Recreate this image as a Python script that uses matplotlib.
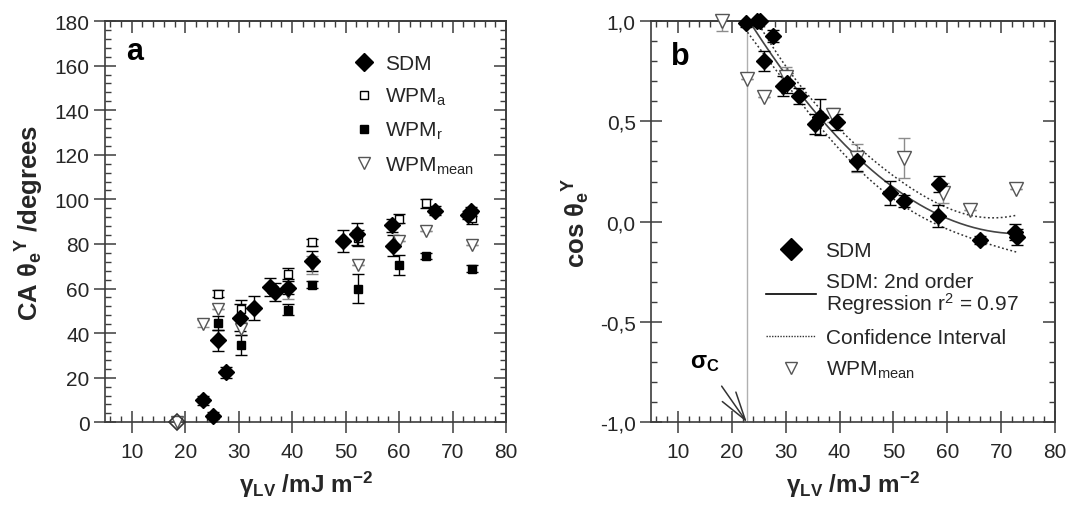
import numpy as np
import matplotlib
matplotlib.use("Agg")
import matplotlib.pyplot as plt
from matplotlib.ticker import MultipleLocator, FixedLocator, FixedFormatter
from matplotlib.lines import Line2D

plt.rcParams['font.family'] = ['Liberation Sans', 'DejaVu Sans']
plt.rcParams['mathtext.fontset'] = 'custom'
plt.rcParams['mathtext.rm'] = 'Liberation Sans'
plt.rcParams['mathtext.it'] = 'Liberation Sans:italic'
plt.rcParams['mathtext.bf'] = 'Liberation Sans:bold'

# ---------------- Panel a data ----------------
sdm_a_x = [23.3, 25.2, 26.2, 27.7, 30.2, 32.8, 35.9, 36.8, 39.3, 43.8, 49.6, 52.2, 58.6, 58.9, 66.7, 72.8, 73.4]
sdm_a_y = [9.8, 3.0, 36.7, 22.5, 47.0, 51.2, 60.8, 58.6, 60.4, 72.4, 81.4, 84.4, 88.4, 79.3, 95.0, 93.0, 94.7]
sdm_a_e = [2.0, 1.5, 4.5, 2.5, 6.0, 5.5, 4.0, 4.0, 3.0, 4.5, 5.0, 5.0, 3.0, 4.5, 2.0, 2.0, 2.0]
sdm_open_x = [18.5]
sdm_open_y = [0.0]

wpm_x = [26.2, 30.4, 39.3, 43.8, 52.4, 60.0, 65.0, 73.6]
wpma_y = [57.7, 51.0, 66.7, 80.8, 82.6, 91.3, 98.3, 91.6]
wpma_e = [1.5, 4.0, 2.5, 1.5, 3.5, 2.0, 2.0, 2.5]
wpmr_y = [44.6, 34.6, 50.5, 61.7, 60.0, 70.7, 74.6, 68.9]
wpmr_e = [3.0, 4.5, 2.5, 1.5, 6.5, 4.5, 1.5, 1.5]

wpmm_a_x = [18.5, 23.3, 26.2, 30.4, 39.3, 43.8, 52.4, 60.0, 65.0, 73.6]
wpmm_a_y = [0.0, 44.3, 50.7, 42.0, 58.5, 70.7, 70.7, 81.1, 85.7, 79.6]
wpmm_a_e = [0.0, 1.5, 0.0, 3.0, 3.0, 4.0, 0.0, 0.0, 0.0, 0.0]

# ---------------- Panel b data ----------------
sdm_b_x = [22.7, 24.6, 25.3, 27.6, 26.0, 29.5, 30.3, 32.5, 35.5, 36.4, 39.5, 43.2, 49.3, 52.0, 58.3, 58.5, 66.0, 72.6, 72.9]
sdm_b_y = [0.99, 1.0, 1.0, 0.924, 0.80, 0.675, 0.69, 0.625, 0.487, 0.52, 0.495, 0.304, 0.143, 0.105, 0.027, 0.188, -0.09, -0.053, -0.078]
sdm_b_e = [0.02, 0.01, 0.01, 0.03, 0.05, 0.05, 0.05, 0.04, 0.05, 0.09, 0.04, 0.05, 0.06, 0.03, 0.055, 0.04, 0.02, 0.04, 0.04]

wpmm_b_x = [18.1, 22.9, 26.0, 30.0, 38.7, 43.2, 52.0, 59.2, 64.3, 72.8]
wpmm_b_y = [1.0, 0.71, 0.62, 0.72, 0.53, 0.315, 0.316, 0.143, 0.06, 0.163]
wpmm_b_e = [0.05, 0.0, 0.0, 0.05, 0.035, 0.07, 0.1, 0.05, 0.0, 0.0]

sigma_c = 22.8

a_yticks = [0, 20, 40, 60, 80, 100, 120, 140, 160, 180]
xticks = [10, 20, 30, 40, 50, 60, 70, 80]
b_yticks = [-1.0, -0.5, 0.0, 0.5, 1.0]
b_yticklabels = ['-1,0', '-0,5', '0,0', '0,5', '1,0']

# ---------------- Figure ----------------
W, H = 1067, 506
fig = plt.figure(figsize=(W / 100, H / 100), dpi=100)
axa = fig.add_axes([105 / W, (H - 423.3) / H, 401 / W, 401.3 / H])
axb = fig.add_axes([651 / W, (H - 423.3) / H, 404 / W, 401.3 / H])

SP = '#3c3c3c'
TX = '#262626'
GR = '#8c8c8c'


def style(ax, xminor, yminor):
    for s in ax.spines.values():
        s.set_color(SP)
        s.set_linewidth(1.2)
    ax.xaxis.set_minor_locator(MultipleLocator(xminor))
    ax.yaxis.set_minor_locator(MultipleLocator(yminor))
    ax.tick_params(which='major', direction='inout', length=16, width=1.1, color=SP,
                   labelsize=15, labelcolor=TX, top=False, right=False)
    ax.tick_params(axis='x', which='major', pad=6)
    ax.tick_params(axis='y', which='major', pad=3)
    ax.tick_params(which='minor', direction='in', length=4, width=1.0, color=SP,
                   top=False, right=False)
    sx = ax.secondary_xaxis('top')
    sx.xaxis.set_major_locator(FixedLocator(ax.get_xticks()))
    sx.xaxis.set_minor_locator(MultipleLocator(xminor))
    sx.tick_params(which='major', direction='in', length=8.5, width=1.1, color=SP, labeltop=False)
    sx.tick_params(which='minor', direction='in', length=4, width=1.0, color=SP)
    sx.spines['top'].set_color(SP)
    sx.spines['top'].set_linewidth(1.2)
    sy = ax.secondary_yaxis('right')
    sy.yaxis.set_major_locator(FixedLocator(ax.get_yticks()))
    sy.yaxis.set_minor_locator(MultipleLocator(yminor))
    sy.tick_params(which='major', direction='in', length=8.5, width=1.1, color=SP, labelright=False)
    sy.tick_params(which='minor', direction='in', length=4, width=1.0, color=SP)
    sy.spines['right'].set_color(SP)
    sy.spines['right'].set_linewidth(1.2)


# ---------------- Panel a ----------------
ax = axa
ax.set_xlim(5, 80)
ax.set_ylim(0, 180)
ax.set_xticks(xticks)
ax.set_yticks(a_yticks)

ek = dict(fmt='none', capsize=4, elinewidth=1.0, capthick=1.0)
ax.errorbar(wpmm_a_x, wpmm_a_y, yerr=wpmm_a_e, ecolor=GR, **ek)
ax.errorbar(wpm_x, wpma_y, yerr=wpma_e, ecolor='black', **ek)
ax.errorbar(wpm_x, wpmr_y, yerr=wpmr_e, ecolor='black', **ek)
ax.errorbar(sdm_a_x, sdm_a_y, yerr=sdm_a_e, ecolor='black', **ek)

ax.plot(wpmm_a_x, wpmm_a_y, linestyle='none', marker='v', ms=8, mfc='white', mec='#555555',
        mew=1.0, clip_on=False, zorder=4)
ax.plot(wpm_x, wpma_y, linestyle='none', marker='s', ms=5.5, mfc='white', mec='black',
        mew=1.0, clip_on=False, zorder=5)
ax.plot(wpm_x, wpmr_y, linestyle='none', marker='s', ms=5.5, mfc='black', mec='black',
        clip_on=False, zorder=5)
ax.plot(sdm_a_x, sdm_a_y, linestyle='none', marker='D', ms=8, mfc='black', mec='black',
        clip_on=False, zorder=6)
ax.plot(sdm_open_x, sdm_open_y, linestyle='none', marker='D', ms=8, mfc='none', mec='#333333',
        mew=1.2, clip_on=False, zorder=6)

ha = [Line2D([], [], ls='none', marker='D', ms=9, mfc='black', mec='black'),
      Line2D([], [], ls='none', marker='s', ms=6, mfc='white', mec='black'),
      Line2D([], [], ls='none', marker='s', ms=6, mfc='black', mec='black'),
      Line2D([], [], ls='none', marker='v', ms=9, mfc='white', mec='#555555')]
la = ['SDM', 'WPM$_\\mathregular{a}$', 'WPM$_\\mathregular{r}$', 'WPM$_\\mathregular{mean}$']
leg = ax.legend(ha, la, loc='upper left', bbox_to_anchor=(0.62, 0.918), frameon=False,
                fontsize=15, handlelength=1.0, handletextpad=0.5, labelspacing=0.62,
                borderpad=0, borderaxespad=0)
for t in leg.get_texts():
    t.set_color(TX)

ax.text(0.075, 0.925, 'a', transform=ax.transAxes, fontsize=22, fontweight='bold',
        ha='center', va='center', color='black')
ax.set_ylabel(r'CA $\mathbf{\theta_e}^{\mathbf{Y}}$ /degrees', fontsize=18.5, fontweight='bold',
              color=TX, labelpad=6)
ax.set_xlabel(r'$\mathbf{\gamma_{LV}}$ /mJ m$^{\mathbf{-2}}$', fontsize=17.5, fontweight='bold',
              color=TX, labelpad=6)
style(ax, 2, 4)

# ---------------- Panel b ----------------
ax = axb
ax.set_xlim(5, 80)
ax.set_ylim(-1.0, 1.0)
ax.set_xticks(xticks)
ax.yaxis.set_major_locator(FixedLocator(b_yticks))
ax.yaxis.set_major_formatter(FixedFormatter(b_yticklabels))

ax.axvline(sigma_c, color='#b0b0b0', lw=1.0, zorder=1)

# 2nd order regression of the SDM data with its 95 % confidence interval
bx = np.asarray(sdm_b_x)
by = np.asarray(sdm_b_y)
X = np.vander(bx, 3)
coef, *_ = np.linalg.lstsq(X, by, rcond=None)
res = by - X @ coef
dof = len(bx) - 3
s2 = res @ res / dof
cov = s2 * np.linalg.inv(X.T @ X)
xx = np.linspace(sigma_c, 73.0, 200)
XX = np.vander(xx, 3)
yy = XX @ coef
tval = 2.131
xc = np.linspace(21.5, 73.0, 200)
XC = np.vander(xc, 3)
yc = XC @ coef
sec = np.sqrt(np.einsum('ij,jk,ik->i', XC, cov, XC))
ax.plot(xx, yy, color='#444444', lw=1.2, zorder=2)
ax.plot(xc, yc + tval * sec, color='#333333', lw=1.1, ls=(0, (1.2, 1.6)), zorder=2)
ax.plot(xc, yc - tval * sec, color='#333333', lw=1.1, ls=(0, (1.2, 1.6)), zorder=2)

ax.errorbar(wpmm_b_x, wpmm_b_y, yerr=wpmm_b_e, ecolor=GR, **ek)
ax.errorbar(sdm_b_x, sdm_b_y, yerr=sdm_b_e, ecolor='black', **ek)
ax.plot(wpmm_b_x, wpmm_b_y, linestyle='none', marker='v', ms=10, mfc='white', mec='#555555',
        mew=1.0, clip_on=False, zorder=4)
ax.plot(sdm_b_x, sdm_b_y, linestyle='none', marker='D', ms=8.5, mfc='black', mec='black',
        clip_on=False, zorder=6)

hb = [Line2D([], [], ls='none', marker='D', ms=11, mfc='black', mec='black'),
      Line2D([], [], color='black', lw=1.2),
      Line2D([], [], color='#333333', lw=1.0, ls=(0, (1.0, 1.0))),
      Line2D([], [], ls='none', marker='v', ms=9, mfc='white', mec='#555555')]
lb = ['SDM', 'SDM: 2nd order\nRegression r$^\\mathregular{2}$ = 0.97', 'Confidence Interval',
      'WPM$_\\mathregular{mean}$']
leg = ax.legend(hb, lb, loc='upper left', bbox_to_anchor=(0.285, 0.452), frameon=False,
                fontsize=15, handlelength=2.4, handletextpad=0.45, labelspacing=0.58,
                borderpad=0, borderaxespad=0)
for t in leg.get_texts():
    t.set_color(TX)
    t.set_linespacing(0.95)

ax.annotate(r'$\mathbf{\sigma_C}$', xy=(sigma_c, -1.0), xytext=(15.0, -0.70),
            fontsize=17, ha='center', va='center', color='black',
            arrowprops=dict(arrowstyle='->,head_length=1.2,head_width=0.35', color='#333333',
                            lw=1.1, shrinkA=9, shrinkB=0), annotation_clip=False)

ax.text(0.072, 0.913, 'b', transform=ax.transAxes, fontsize=22, fontweight='bold',
        ha='center', va='center', color='black')
ax.set_ylabel(r'cos $\mathbf{\theta_e}^{\mathbf{Y}}$', fontsize=18.5, fontweight='bold',
              color=TX, labelpad=6)
ax.set_xlabel(r'$\mathbf{\gamma_{LV}}$ /mJ m$^{\mathbf{-2}}$', fontsize=17.5, fontweight='bold',
              color=TX, labelpad=6)
style(ax, 2, 0.1)

fig.savefig('out.png', dpi=100)
